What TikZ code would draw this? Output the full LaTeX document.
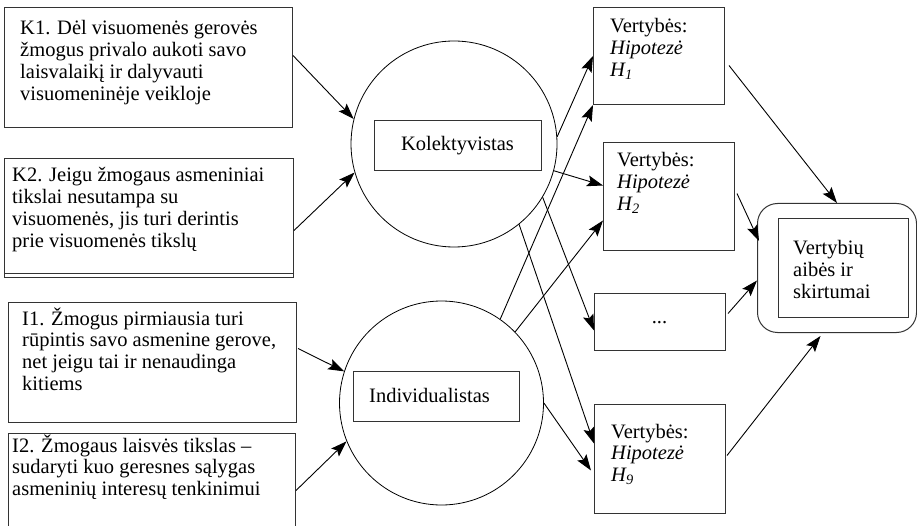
\documentclass[tikz,border=0pt]{standalone}
\usepackage{fontspec}
\setmainfont{Liberation Serif}
\usetikzlibrary{arrows.meta}
\begin{document}
\begin{tikzpicture}[x=1pt,y=-1pt,
  box/.style={draw=black!80, line width=1pt, inner sep=0pt, anchor=north west},
  circ/.style={draw, circle, line width=0.8pt, inner sep=0pt},
  txt/.style={anchor=base west, inner sep=0pt, font=\fontsize{20.5}{21.7}\selectfont},
  arr/.style={-{Stealth[length=16pt,width=11pt,inset=3pt]}, line width=0.9pt}]
\useasboundingbox (0,0) rectangle (917,526);

% left boxes
\node[box, minimum width=288pt, minimum height=120pt] (k1) at (4,7) {};
\node[txt] (k1t) at (20,35) {\begin{tabular}[t]{@{}l@{}}K1. Dėl visuomenės gerovės\\ žmogus privalo aukoti savo\\ laisvalaikį ir dalyvauti\\ visuomeninėje veikloje\end{tabular}};

\node[box, minimum width=289pt, minimum height=119pt] (k2) at (4,158) {};
\draw[draw=black!80, line width=1pt] ([yshift=4.5pt]k2.south west) -- ([yshift=4.5pt]k2.south east);
\node[txt] (k2t) at (12,182) {\begin{tabular}[t]{@{}l@{}}K2. Jeigu žmogaus asmeniniai\\ tikslai nesutampa su\\ visuomenės, jis turi derintis\\ prie visuomenės tikslų\end{tabular}};

\node[box, minimum width=288pt, minimum height=120pt] (i1) at (8,302) {};
\node[txt] (i1t) at (22,325) {\begin{tabular}[t]{@{}l@{}}I1. Žmogus pirmiausia turi\\ rūpintis savo asmenine gerove,\\ net jeigu tai ir nenaudinga\\ kitiems\end{tabular}};

\node[box, minimum width=287pt, minimum height=97pt] (i2) at (8,433) {};
\node[txt] (i2t) at (12,452) {\begin{tabular}[t]{@{}l@{}}I2. Žmogaus laisvės tikslas –\\ sudaryti kuo geresnes sąlygas\\ asmeninių interesų tenkinimui\end{tabular}};

% circles
\node[circ, minimum size=206pt] (kol) at (454,144) {};
\node[box, anchor=center, minimum width=167pt, minimum height=50pt, font=\fontsize{20.5}{21.7}\selectfont] (kolbox) at (457.5,146) {Kolektyvistas};

\node[circ, minimum size=204pt] (ind) at (441.5,403) {};
\node[box, anchor=center, minimum width=166pt, minimum height=50pt] (indbox) at (436,396) {};
\node[txt] (indt) at (369,402) {Individualistas};

% value boxes
\node[box, minimum width=131pt, minimum height=97pt] (h1) at (593,7) {};
\node[txt] (h1t) at (610,33) {\begin{tabular}[t]{@{}l@{}}Vertybės:\\ \textit{Hipotezė}\\ \textit{H\textsubscript{1}}\end{tabular}};

\node[box, minimum width=131pt, minimum height=108pt] (h2) at (603,142) {};
\node[txt] (h2t) at (617,167) {\begin{tabular}[t]{@{}l@{}}Vertybės:\\ \textit{Hipotezė}\\ \textit{H\textsubscript{2}}\end{tabular}};

\node[box, minimum width=131pt, minimum height=57pt] (dots) at (594,293) {};
\node[inner sep=0pt, font=\fontsize{20.5}{21.7}\selectfont] (dotst) at (659.5,322.5) {...};

\node[box, minimum width=131pt, minimum height=109pt] (h9) at (594,404) {};
\node[txt] (h9t) at (611,438) {\begin{tabular}[t]{@{}l@{}}Vertybės:\\ \textit{Hipotezė}\\ \textit{H\textsubscript{9}}\end{tabular}};

% result box
\node[box, rounded corners=20pt, minimum width=159pt, minimum height=129pt] (big) at (757,203) {};
\node[box, minimum width=130pt, minimum height=99pt] (bigin) at (778,218) {};
\node[txt] (bigt) at (793,255) {\begin{tabular}[t]{@{}l@{}}Vertybių\\ aibės ir\\ skirtumai\end{tabular}};

% arrows into circles
\draw[arr] ([yshift=12pt]k1.east) -- (kol.166.5);
\draw[arr] ([yshift=-12.5pt]k2.east) -- (kol.196);
\draw[arr] ([xshift=1pt,yshift=14pt]i1.east) -- (ind.162.5);
\draw[arr] ([yshift=-8.5pt]i2.east) -- (ind.202);

% arrows from circles
\draw[arr] (kol.4) -- (h1.west);
\draw[arr] (kol.-15) -- ([yshift=11pt]h2.west);
\draw[arr] (kol.-31) -- ([yshift=-8.5pt]dots.west);
\draw[arr] (kol.-51) -- ([yshift=15.5pt]h9.west);
\draw[arr] (ind.55.5) -- (h1.south west);
\draw[arr] (ind.44.4) -- ([yshift=-24pt]h2.west);
\draw[arr] (ind.0) -- ([xshift=-3pt,yshift=-11.5pt]h9.west);

% arrows to result
\draw[arr] ([xshift=4pt,yshift=-9.5pt]h1.east) -- (big.north);
\draw[arr] ([xshift=2pt,yshift=3pt]h2.east) -- ([xshift=2pt,yshift=27pt]big.west);
\draw[arr] ([xshift=2pt,yshift=8.5pt]dots.east) -- ([yshift=-12.5pt]big.west);
\draw[arr] ([xshift=1pt,yshift=3.5pt]h9.east) -- ([xshift=-16.5pt,yshift=-3pt]big.south);
\end{tikzpicture}
\end{document}
